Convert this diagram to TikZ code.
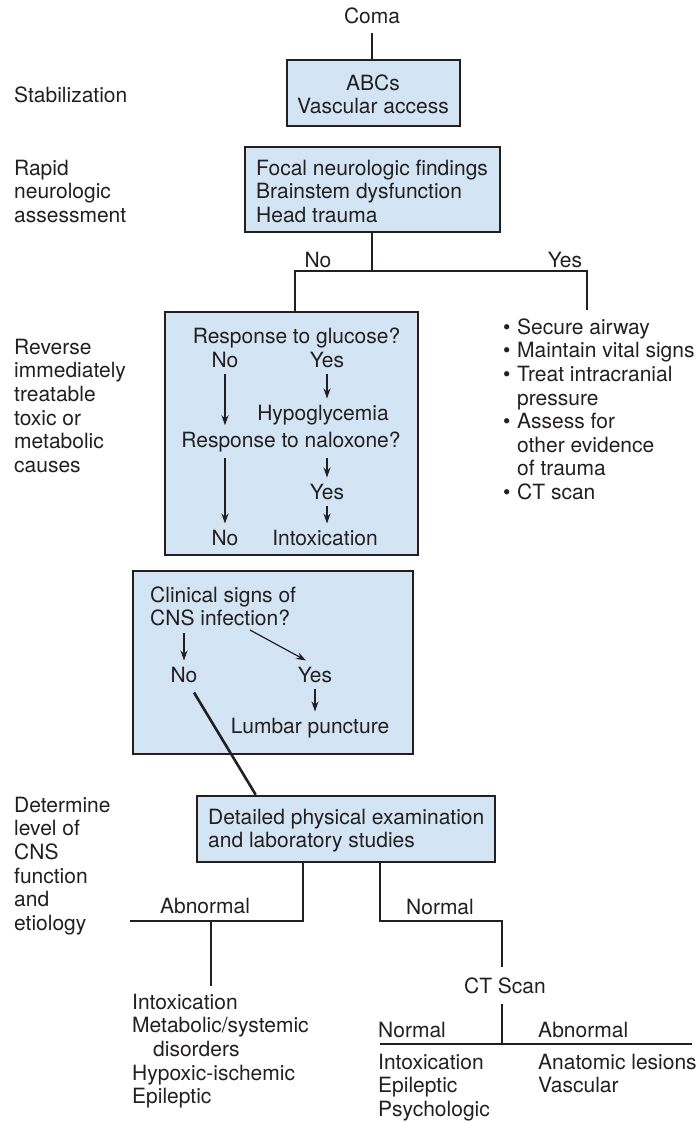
\documentclass[tikz,border=0pt]{standalone}
\usepackage{fontspec}
\setmainfont{TeX Gyre Heros}
\usetikzlibrary{arrows.meta,calc}
\definecolor{ink}{HTML}{231F20}
\definecolor{boxfill}{HTML}{D3E5F4}
\newcommand\fs{\fontsize{21}{23.6}\selectfont}
\begin{document}
\begin{tikzpicture}[x=1pt,y=-1pt,
  txt/.style={font=\fs, text=ink, inner sep=0pt},
  it/.style={font=\fs, text=ink, inner xsep=0pt, inner ysep=6pt},
  box/.style={draw=ink, fill=boxfill, line width=2.6pt, inner sep=0pt},
  conn/.style={draw=ink, line width=2.6pt},
  arr/.style={draw=ink, line width=1.2pt, -{Stealth[length=10pt,width=7pt]}},
]
\useasboundingbox (0,0) rectangle (697,1122);

% ---- left stage labels
\node[txt, anchor=base west] (lstab) at (14,102) {Stabilization};
\node[txt, anchor=north west, align=left] (lrapid) at (14,158.5) {\strut Rapid\\neurologic\\assessment};
\node[txt, anchor=north west, align=left] (lrev) at (14,337.5) {\strut Reverse\\immediately\\treatable\\toxic or\\metabolic\\causes};
\node[txt, anchor=north west, align=left] (ldet) at (14,795.5) {\strut Determine\\level of\\CNS\\function\\and\\etiology};

% ---- top
\node[txt, anchor=base, inner ysep=9pt] (coma) at (372,23) {Coma};
\node[box, minimum width=173pt, minimum height=66pt] (abc) at (373.5,93) {};
\node[txt, anchor=north, align=center] (abctxt) at (373,73.5) {\strut ABCs\\Vascular access};
\draw[conn] (coma.south) -- (abc.north -| coma.south);

\node[box, minimum width=255pt, minimum height=85pt] (focal) at (372.5,189.5) {};
\node[txt, anchor=north west, align=left] (focaltxt) at (256,158.5) {\strut Focal neurologic findings\\Brainstem dysfunction\\Head trauma};

\coordinate (j1) at (372,271);
\coordinate (jl) at (295,271);
\coordinate (jr) at (587,271);
\coordinate (jrend) at (587,310);
\node[txt, anchor=base] (nolbl) at (318,267) {No};
\node[txt, anchor=base] (yeslbl) at (565,267) {Yes};

% ---- glucose / naloxone box
\node[box, minimum width=253pt, minimum height=243pt] (gluc) at (291.5,433.5) {};
\draw[conn] (focal.south -| j1) -- (j1);
\draw[conn] (gluc.north -| jl) -- (jl) -- (jr) -- (jrend);

\node[txt, anchor=north west, align=left] (bul) at (503,317.5)
 {\strut\makebox[14pt][l]{\textbullet}Secure airway\\
  \makebox[14pt][l]{\textbullet}Maintain vital signs\\
  \makebox[14pt][l]{\textbullet}Treat intracranial\\
  \hspace*{14pt}pressure\\
  \makebox[14pt][l]{\textbullet}Assess for\\
  \hspace*{14pt}other evidence\\
  \hspace*{14pt}of trauma\\
  \makebox[14pt][l]{\textbullet}CT scan};

\node[it, anchor=base] (q1) at (296.5,343) {Response to glucose?};
\node[it, anchor=base] (n1) at (225,367) {No};
\node[it, anchor=base] (y1) at (327,367) {Yes};
\node[it, anchor=base] (hypo) at (323,420) {Hypoglycemia};
\node[it, anchor=base] (q2) at (291,447) {Response to naloxone?};
\node[it, anchor=base] (y2) at (327,499) {Yes};
\node[it, anchor=base] (n2) at (225,545) {No};
\node[it, anchor=base] (intox) at (325,545) {Intoxication};
\draw[arr] (y1.south) -- (y1.south |- hypo.north);
\draw[arr] (n1.south) -- (n1.south |- q2.north);
\draw[arr] (q2.south -| y2) -- (y2.north);
\draw[arr] (y2.south) -- (y2.south |- intox.north);
\draw[arr] (q2.south -| n2) -- (n2.north);

% ---- CNS infection box
\node[box, minimum width=280pt, minimum height=183pt] (cns) at (273,662.5) {};
\node[txt, anchor=north west, align=left] (cnsq) at (150,585.5) {\strut Clinical signs of\\CNS infection?};
\node[it, anchor=base] (n3) at (184,682) {No};
\node[it, anchor=base] (y3) at (315,682) {Yes};
\node[it, anchor=base] (lp) at (310,733) {Lumbar puncture};
\coordinate (dstart) at (250,630);
\draw[arr, shorten <=7pt] (cnsq.south -| n3) -- (n3.north);
\draw[arr] (dstart) -- ($(y3.north)+(-9,0)$);
\draw[arr] (y3.south) -- (y3.south |- lp.north);

% ---- detailed exam
\node[box, minimum width=298pt, minimum height=66pt] (detail) at (346,829) {};
\node[txt, anchor=north west, align=left] (dettxt) at (208,807.5) {\strut Detailed physical examination\\and laboratory studies};
\draw[conn] ($(n3.south)+(10,4)$) -- ($(detail.north west)+(60,0)$);

% ---- bottom tree
\coordinate (ja) at (303,921);
\coordinate (jal) at (130,921);
\coordinate (jam) at (211,921);
\coordinate (jamend) at (211,986);
\draw[conn] (detail.south -| ja) -- (ja) -- (jal);
\draw[conn] (jam) -- (jamend);
\node[txt, anchor=base] (abn1) at (205,913) {Abnormal};
\node[txt, anchor=north west, align=left] (abnlist) at (132,992.5)
 {\strut Intoxication\\Metabolic/systemic\\\hspace*{21pt}disorders\\Hypoxic-ischemic\\Epileptic};

\coordinate (jn) at (380,921);
\coordinate (jnr) at (502,921);
\node[txt, anchor=base] (nor1) at (440,914) {Normal};
\node[txt, anchor=base, inner ysep=10pt] (ct) at (505,993) {CT Scan};
\draw[conn] (detail.south -| jn) -- (jn) -- (jnr) -- (ct.north -| jnr);

\coordinate (jc) at (502,1044);
\coordinate (jcl) at (380,1044);
\coordinate (jcr) at (692,1044);
\draw[conn] (ct.south -| jc) -- (jc);
\draw[conn] (jcl) -- (jcr);
\node[txt, anchor=base west] (nor2) at (378,1037) {Normal};
\node[txt, anchor=base west] (abn2) at (538,1037) {Abnormal};
\node[txt, anchor=north west, align=left] (norlist) at (378,1052.5) {\strut Intoxication\\Epileptic\\Psychologic};
\node[txt, anchor=north west, align=left] (abnlist2) at (538,1052.5) {\strut Anatomic lesions\\Vascular};
\end{tikzpicture}
\end{document}
